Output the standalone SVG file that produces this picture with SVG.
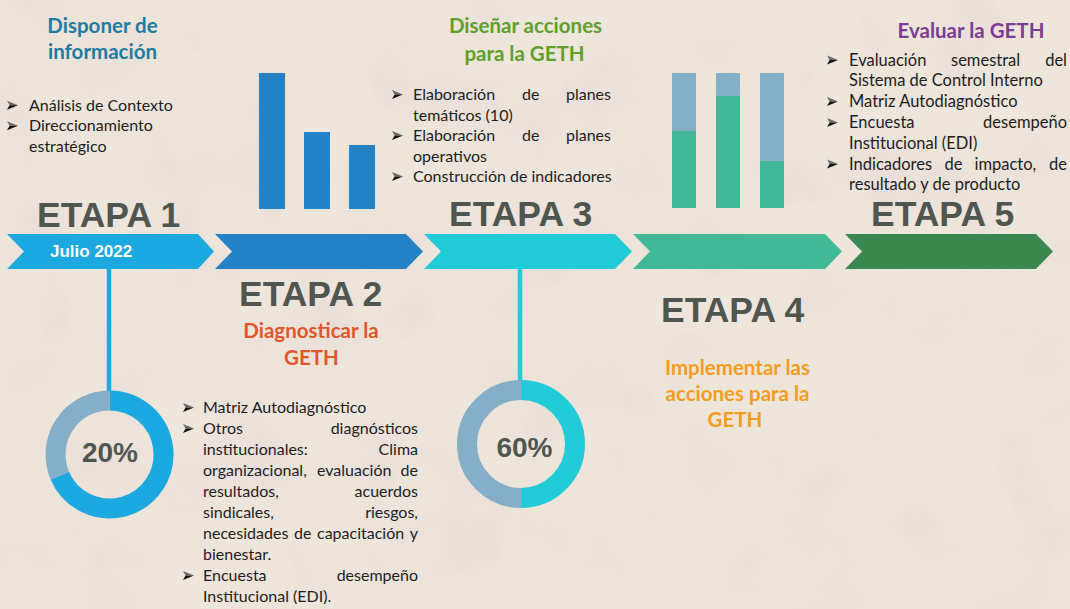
<svg xmlns="http://www.w3.org/2000/svg" xmlns:xlink="http://www.w3.org/1999/xlink" width="1070" height="609" viewBox="0 0 1070 609">
<defs>
<filter id="tex" x="0" y="0" width="100%" height="100%">
<feTurbulence type="fractalNoise" baseFrequency="0.014" numOctaves="4" seed="7"/>
<feColorMatrix type="matrix" values="0 0 0 0 0.80  0 0 0 0 0.68  0 0 0 0 0.68  0 0 0 1.5 -0.55"/>
</filter>
<g id="arr">
<path d="M0,-4.5 L11,0 L2.6,0 Z" fill="#6b6b6b"/>
<path d="M0,4.5 L11,0 L2.6,0 Z" fill="#111111"/>
</g>
<style>
.etapa{font-family:"Liberation Sans",Arial,sans-serif;font-weight:bold;font-size:35.5px;fill:#4F5650}
.title{font-family:Lato,"Open Sans",sans-serif;font-weight:bold;font-size:20.5px;text-anchor:middle}
.body{font-family:Lato,"Open Sans",sans-serif;font-size:16px;fill:#1d1d1d}
.b5{font-size:16.5px}
.end{text-anchor:end}
.pct{font-family:"Liberation Sans",Arial,sans-serif;font-weight:bold;font-size:28px;fill:#4F5650;text-anchor:middle}
.julio{font-family:"Liberation Sans",Arial,sans-serif;font-weight:bold;font-size:17px;fill:#ffffff}
.ring{fill:none;stroke-width:20}
.gray{stroke:#85AEC9}
.gbar{fill:#85AEC9}
.tbar{fill:#41B896}
.bbar{fill:#2383C6}
</style>
</defs>
<rect width="1070" height="609" fill="#EEE6DA"/>
<rect width="1070" height="609" filter="url(#tex)" opacity="0.7"/>

<g id="connectors">
<line x1="109" y1="268" x2="109" y2="392" stroke="#1BA9E0" stroke-width="4.5"/>
<line x1="520" y1="268" x2="520" y2="382" stroke="#22CBD8" stroke-width="4.5"/>
</g>

<g id="etapa1">
<polygon points="7,234 198,234 214,251.5 198,269 7,269 24,251.5" fill="#1BA9E0"/>
<text class="julio" x="50" y="257">Julio 2022</text>
<text class="etapa" x="37" y="227">ETAPA 1</text>
<text class="title" fill="#1E7BA3" x="102.5" y="33">Disponer de</text>
<text class="title" fill="#1E7BA3" x="102.5" y="59">información</text>
<use xlink:href="#arr" href="#arr" x="7" y="105.3"/>
<use xlink:href="#arr" href="#arr" x="7" y="125.8"/>
<text class="body" x="29" y="110.8">Análisis de Contexto</text>
<text class="body" x="29" y="131.3">Direccionamiento</text>
<text class="body" x="29" y="151.8">estratégico</text>
</g>

<g id="donut1">
<path class="ring" stroke="#1BA9E0" d="M109.5,400.5 A54,54 0 1 1 59.8,475.6"/>
<path class="ring gray" d="M59.8,475.6 A54,54 0 0 1 109.5,400.5"/>
<text class="pct" x="110" y="462">20%</text>
</g>

<g id="etapa2">
<polygon points="215,234 406,234 423,251.5 406,269 215,269 232,251.5" fill="#2383C6"/>
<rect class="bbar" x="259" y="73" width="26" height="136"/>
<rect class="bbar" x="304" y="132" width="26" height="77"/>
<rect class="bbar" x="349" y="145" width="26" height="64"/>
<text class="etapa" x="239" y="306">ETAPA 2</text>
<text class="title" fill="#DF5628" x="311" y="338">Diagnosticar la</text>
<text class="title" fill="#DF5628" x="311.5" y="365">GETH</text>
<use xlink:href="#arr" href="#arr" x="183" y="407.5"/>
<use xlink:href="#arr" href="#arr" x="183" y="428.5"/>
<use xlink:href="#arr" href="#arr" x="183" y="575.5"/>
<text class="body" x="203" y="413">Matriz Autodiagnóstico</text>
<text class="body" x="203" y="434">Otros</text>
<text class="body end" x="418" y="434">diagnósticos</text>
<text class="body" x="203" y="455">institucionales:</text>
<text class="body end" x="418" y="455">Clima</text>
<text class="body" x="203" y="476">organizacional,</text>
<text class="body" x="317" y="476">evaluación</text>
<text class="body end" x="418" y="476">de</text>
<text class="body" x="203" y="497">resultados,</text>
<text class="body end" x="418" y="497">acuerdos</text>
<text class="body" x="203" y="518">sindicales,</text>
<text class="body end" x="418" y="518">riesgos,</text>
<text class="body" x="203" y="539">necesidades</text>
<text class="body" x="294" y="539">de</text>
<text class="body" x="317" y="539">capacitación</text>
<text class="body end" x="418" y="539">y</text>
<text class="body" x="203" y="560">bienestar.</text>
<text class="body" x="203" y="581">Encuesta</text>
<text class="body end" x="418" y="581">desempeño</text>
<text class="body" x="203" y="602">Institucional (EDI).</text>
</g>

<g id="etapa3">
<polygon points="424,234 615,234 632,251.5 615,269 424,269 441,251.5" fill="#22CBD8"/>
<text class="etapa" x="449" y="226">ETAPA 3</text>
<text class="title" fill="#5E9F2E" x="525.5" y="33">Diseñar acciones</text>
<text class="title" fill="#5E9F2E" x="524.5" y="61">para la GETH</text>
<use xlink:href="#arr" href="#arr" x="392" y="94.5"/>
<use xlink:href="#arr" href="#arr" x="392" y="135.5"/>
<use xlink:href="#arr" href="#arr" x="392" y="176.5"/>
<text class="body" x="413" y="100">Elaboración</text>
<text class="body" x="522" y="100">de</text>
<text class="body end" x="611" y="100">planes</text>
<text class="body" x="413" y="120.5">temáticos (10)</text>
<text class="body" x="413" y="141">Elaboración</text>
<text class="body" x="522" y="141">de</text>
<text class="body end" x="611" y="141">planes</text>
<text class="body" x="413" y="161.5">operativos</text>
<text class="body" x="413" y="182">Construcción de indicadores</text>
</g>

<g id="donut2">
<path class="ring" stroke="#22CBD8" d="M521,390 A54,54 0 0 1 521,498"/>
<path class="ring gray" d="M521,498 A54,54 0 0 1 521,390"/>
<text class="pct" x="524.5" y="457">60%</text>
</g>

<g id="etapa4">
<polygon points="633,234 825,234 842,251.5 825,269 633,269 650,251.5" fill="#41B896"/>
<rect class="gbar" x="672" y="73" width="24" height="58"/>
<rect class="tbar" x="672" y="131" width="24" height="77"/>
<rect class="gbar" x="716" y="73" width="24" height="23"/>
<rect class="tbar" x="716" y="96" width="24" height="112"/>
<rect class="gbar" x="760" y="73" width="24" height="88"/>
<rect class="tbar" x="760" y="161" width="24" height="47"/>
<text class="etapa" x="661" y="322">ETAPA 4</text>
<text class="title" fill="#F49C1C" x="737.5" y="375">Implementar las</text>
<text class="title" fill="#F49C1C" x="737.5" y="401">acciones para la</text>
<text class="title" fill="#F49C1C" x="735" y="427">GETH</text>
</g>

<g id="etapa5">
<polygon points="845,234 1036,234 1053,251.5 1036,269 845,269 862,251.5" fill="#3A8850"/>
<text class="etapa" x="871" y="226">ETAPA 5</text>
<text class="title" fill="#7E3B95" x="971" y="38">Evaluar la GETH</text>
<use xlink:href="#arr" href="#arr" x="827" y="60"/>
<use xlink:href="#arr" href="#arr" x="827" y="101.6"/>
<use xlink:href="#arr" href="#arr" x="827" y="122.4"/>
<use xlink:href="#arr" href="#arr" x="827" y="164"/>
<text class="body b5" x="849" y="65.5">Evaluación</text>
<text class="body b5" x="951" y="65.5">semestral</text>
<text class="body b5 end" x="1067" y="65.5">del</text>
<text class="body b5" x="849" y="86.3">Sistema de Control Interno</text>
<text class="body b5" x="849" y="107.1">Matriz Autodiagnóstico</text>
<text class="body b5" x="849" y="127.9">Encuesta</text>
<text class="body b5 end" x="1067" y="127.9">desempeño</text>
<text class="body b5" x="849" y="148.7">Institucional (EDI)</text>
<text class="body b5" x="849" y="169.5">Indicadores</text>
<text class="body b5" x="944.5" y="169.5">de</text>
<text class="body b5" x="974.5" y="169.5">impacto,</text>
<text class="body b5 end" x="1067" y="169.5">de</text>
<text class="body b5" x="849" y="190.3">resultado y de producto</text>
</g>
</svg>
